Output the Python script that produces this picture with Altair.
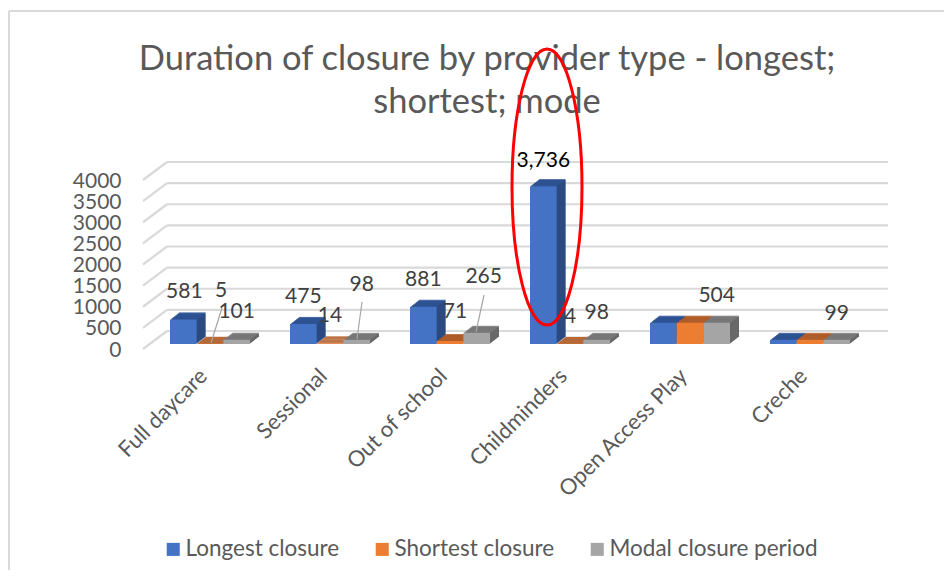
import altair as alt
import pandas as pd

providers = ["Full daycare", "Sessional", "Out of school", "Childminders", "Open Access Play", "Creche"]
series = ["Longest closure", "Shortest closure", "Modal closure period"]
longest = [581, 475, 881, 3736, 504, 99]
shortest = [5, 14, 71, 4, 504, 99]
modal = [101, 98, 265, 98, 504, 99]
y_ticks = [0, 500, 1000, 1500, 2000, 2500, 3000, 3500, 4000]
title_lines = ["Duration of closure by provider type - longest;", "shortest; mode"]

front = ["#4472c4", "#ed7d31", "#a5a5a5"]
side = ["#2b4a80", "#9c5526", "#686868"]
top = ["#2f5597", "#b4602a", "#7c7c7c"]
FONT = "Lato"
TXT = "#595959"

df = pd.DataFrame(
    [{"provider": p, "pi": pi, "series": s, "si": si, "value": v}
     for si, (s, vals) in enumerate(zip(series, [longest, shortest, modal]))
     for pi, (p, v) in enumerate(zip(providers, vals))]
)
ticks = pd.DataFrame({"tick": y_ticks})

BAR = 2 / 9  # bar width in category units
df["left"] = df.pi - 1 / 3 + df.si * BAR
df["right"] = df.left + BAR
df["mid"] = df.left + BAR / 2

xs = alt.Scale(domain=[-0.5, 5.5], nice=False, zero=False)
ys = alt.Scale(domain=[0, 4000], nice=False, zero=False)
label_expr = "[" + ",".join(f"'{p}'" for p in providers) + "][datum.value]"
x_axis = alt.Axis(
    values=list(range(6)), labelExpr=label_expr, title=None, domain=False, ticks=False, grid=False,
    labelAngle=-45, labelAlign="right", labelBaseline="middle", labelFont=FONT, labelFontSize=22,
    labelColor=TXT, labelPadding=28, labelOffset=-7, labelOverlap=False, labelFlush=False, labelBound=False)
y_axis = alt.Axis(
    values=y_ticks, format="d", title=None, domain=False, ticks=False, grid=False, labelFont=FONT, labelFontSize=21,
    labelColor=TXT, labelPadding=29, labelOffset=6, labelOverlap=False, labelFlush=False, labelBound=False)

def X(f):
    return alt.X(f"{f}:Q", scale=xs, axis=x_axis)

def Y(f):
    return alt.Y(f"{f}:Q", scale=ys, axis=y_axis)

layers = []

# wall grid lines
layers.append(alt.Chart(ticks).mark_rule(color="#d9d9d9", strokeWidth=2.2, yOffset=-13, y2Offset=-13).encode(
    x=alt.value(17), x2=alt.value(738), y=Y("tick")))
layers.append(alt.Chart(ticks).mark_rule(color="#d9d9d9", strokeWidth=2.2, yOffset=5, y2Offset=-13).encode(
    x=alt.value(-7), x2=alt.value(17), y=Y("tick"), y2=alt.Y2("tick:Q")))

DEPTH = 9
K = 7 / 9
for si, s in enumerate(series):
    base = alt.Chart(df).transform_filter(alt.datum.series == s)
    for i in range(DEPTH, 0, -1):
        layers.append(base.mark_bar(color=side[si], xOffset=i, x2Offset=i, yOffset=-(i - 1) * K, y2Offset=-i * K).encode(
            x=X("left"), x2=alt.X2("right:Q"), y=Y("value"), y2=alt.datum(0)))
        layers.append(base.mark_bar(color=top[si], xOffset=i, x2Offset=i, yOffset=-i * K, y2Offset=-(i - 1) * K).encode(
            x=X("left"), x2=alt.X2("right:Q"), y=Y("value"), y2=alt.Y2("value:Q")))
    layers.append(base.mark_bar().encode(
        x=X("left"), x2=alt.X2("right:Q"), y=Y("value"), y2=alt.datum(0),
        color=alt.Color("series:N", scale=alt.Scale(domain=series, range=front), legend=alt.Legend(
            title=None, orient="none", direction="horizontal", legendX=12, legendY=363,
            symbolType="square", symbolSize=170, symbolStrokeWidth=0, labelFont=FONT, labelLimit=400,
            labelFontSize=22.5, labelColor=TXT, columnPadding=31, labelOffset=1)),
    ))

# leader lines
for x1, y1, x2, y2 in [(72, 133, 61, 168), (212, 127, 207, 164), (334, 120, 326, 157)]:
    layers.append(alt.Chart(df.head(1)).mark_rule(color="#a6a6a6", strokeWidth=1.2).encode(
        x=alt.value(x1), x2=alt.value(x2), y=alt.value(y1), y2=alt.value(y2)))

# data labels: (provider, series, text, dx, dy, colour)
label_specs = [
    (0, 0, "581", 1, -27.5, "#404040"), (0, 1, "5", 11, -53, "#404040"), (0, 2, "101", 0, -28, "#404040"),
    (1, 0, "475", 0, -27, "#404040"), (1, 1, "14", 0, -27, "#404040"), (1, 2, "98", 5, -55, "#404040"),
    (2, 0, "881", 0, -27, "#404040"), (2, 1, "71", 5, -29, "#404040"), (2, 2, "265", 7, -56, "#404040"),
    (3, 0, "3,736", 0, -25, "#000000"), (3, 1, "4", 0, -27, "#404040"), (3, 2, "98", 0, -27, "#404040"),
    (4, 2, "504", 0, -27, "#404040"), (5, 2, "99", 0, -26, "#404040"),
]
for p, s, text, dx, dy, col in label_specs:
    row = df[(df.pi == p) & (df.si == s)]
    layers.append(alt.Chart(row).mark_text(text=text, font=FONT, fontSize=21, color=col, dx=dx, dy=dy).encode(
        x=X("mid"), y=Y("value")))

# title, drawn as text so it stays put under the fixed layout
for line, ty in zip(title_lines, [-105, -62]):
    layers.append(alt.Chart(df.head(1)).mark_text(
        text=line, font=FONT, fontSize=34.5, color=TXT, align="center", baseline="alphabetic").encode(
        x=alt.value(337), y=alt.value(ty)))

# red hand-drawn ellipse
layers.append(alt.Chart(df.head(1)).mark_point(
    shape="M-0.2536,0 A0.2536,1 0 1 1 0.2536,0 A0.2536,1 0 1 1 -0.2536,0 Z",
    filled=False, color="#ff0000", strokeWidth=3, opacity=1, size=76176).encode(
    x=alt.value(397), y=alt.value(12)))

# frame
layers.append(alt.Chart(df.head(1)).mark_rule(color="#d9d9d9", strokeWidth=2).encode(
    x=alt.value(-141), x2=alt.value(795), y=alt.value(-164)))
layers.append(alt.Chart(df.head(1)).mark_rule(color="#d9d9d9", strokeWidth=2).encode(
    x=alt.value(-141), y=alt.value(-164), y2=alt.value(399)))

chart = alt.layer(*layers).properties(
    width=720, height=169,
    autosize=alt.AutoSizeParams(type="none"),
    padding={"left": 142, "top": 167, "right": 74, "bottom": 226},
).configure_view(stroke=None)

chart.save("out.html", embed_options={"renderer": "svg", "actions": False})
